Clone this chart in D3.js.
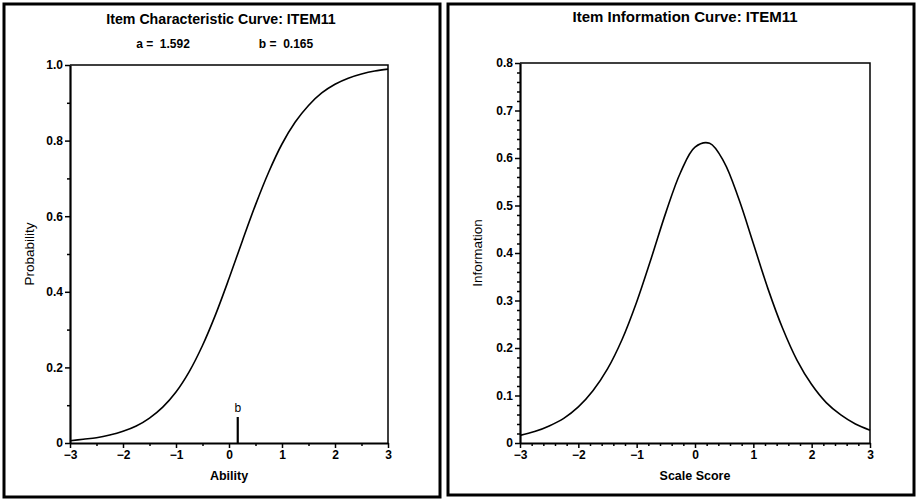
<!DOCTYPE html>
<html>
<head>
<meta charset="utf-8">
<script src="https://cdn.jsdelivr.net/npm/d3@7"></script>
<style>
  body { margin: 0; background: #fff; }
  text { font-family: "Liberation Sans", Arial, sans-serif; fill: #000; }
</style>
</head>
<body>
<svg id="drawing"></svg>
<script>
// ability grid
const abilityPoints = [-3, -2.75, -2.5, -2.25, -2, -1.75, -1.5, -1.25, -1, -0.75, -0.5, -0.25,
    0, 0.25, 0.5, 0.75, 1, 1.25, 1.5, 1.75, 2, 2.25, 2.5, 2.75, 3];
const probabilityValues = [0.006, 0.010, 0.014, 0.021, 0.031, 0.045, 0.066, 0.095, 0.135, 0.189, 0.258, 0.341,
    0.435, 0.534, 0.630, 0.717, 0.791, 0.849, 0.893, 0.926, 0.949, 0.965, 0.976, 0.984, 0.989];
const informationValues = [0.016, 0.024, 0.036, 0.052, 0.076, 0.110, 0.156, 0.218, 0.297, 0.389, 0.485, 0.569,
    0.623, 0.631, 0.591, 0.514, 0.420, 0.325, 0.242, 0.174, 0.123, 0.085, 0.059, 0.040, 0.027];

const xTicks = [-3, -2, -1, 0, 1, 2, 3];
const iccYTicks = [0, 0.2, 0.4, 0.6, 0.8, 1.0];
const infoYTicks = [0, 0.1, 0.2, 0.3, 0.4, 0.5, 0.6, 0.7, 0.8];
const itemLabels = ['a =  1.592', 'b =  0.165'];
const bLocation = 0.165;

class ItemCurveChart {

    constructor( config, data ){
        this.config = {
            parent: config.parent,
            box: config.box,
            plot: config.plot,
            title: config.title || '',
            titleX: config.titleX,
            titleY: config.titleY || 24,
            titleSize: config.titleSize || 14,
            xlabel: config.xlabel || '',
            ylabel: config.ylabel || '',
            ylabelX: config.ylabelX,
            ydomain: config.ydomain,
            yticks: config.yticks,
            yminor: config.yminor,
            xminor: config.xminor
        }
        this.data = data;
        this.init();
    }

    init(){
        let self = this;
        const c = self.config;

        self.svg = d3.select( c.parent );

        // panel border
        self.svg.append('rect')
            .attr('x', c.box.x)
            .attr('y', c.box.y)
            .attr('width', c.box.w)
            .attr('height', c.box.h)
            .attr('fill', 'none')
            .attr('stroke', '#000')
            .attr('stroke-width', 3);

        self.chart = self.svg.append('g')
            .attr('transform', `translate(${c.plot.left}, ${c.plot.top})`);

        self.inner_width = c.plot.width;
        self.inner_height = c.plot.height;

        self.xscale = d3.scaleLinear()
            .domain([-3, 3])
            .range([0, self.inner_width]);

        self.yscale = d3.scaleLinear()
            .domain(c.ydomain)
            .range([self.inner_height, 0]);

        self.svg.append('text')
            .style('font-size', c.titleSize + 'px')
            .style('font-weight', 'bold')
            .attr('text-anchor', 'middle')
            .attr('x', c.titleX)
            .attr('y', c.titleY)
            .text( c.title );

        self.svg.append('text')
            .style('font-size', '12.5px')
            .style('font-weight', 'bold')
            .attr('text-anchor', 'middle')
            .attr('x', c.plot.left + self.inner_width / 2)
            .attr('y', c.plot.top + self.inner_height + 37)
            .text( c.xlabel );

        self.svg.append('text')
            .style('font-size', '13.5px')
            .attr('transform', `translate(${c.ylabelX}, ${c.plot.top + self.inner_height / 2}) rotate(-90)`)
            .attr('text-anchor', 'middle')
            .text( c.ylabel );
    }

    render(){
        let self = this;
        const c = self.config;

        // frame on top and right
        self.chart.append('path')
            .attr('d', `M0,0H${self.inner_width}V${self.inner_height}`)
            .attr('fill', 'none')
            .attr('stroke', '#000')
            .attr('stroke-width', 1.5);

        const fmt = d => d === 0 ? '0' : d3.format('.1f')(d);

        const xminor = self.chart.append('g')
            .attr('transform', `translate(0, ${self.inner_height})`)
            .call( d3.axisBottom(self.xscale).tickValues(c.xminor).tickSize(3).tickFormat('') );
        xminor.select('.domain').remove();

        const yminor = self.chart.append('g')
            .call( d3.axisLeft(self.yscale).tickValues(c.yminor).tickSize(3).tickFormat('') );
        yminor.select('.domain').remove();

        const xaxis = self.chart.append('g')
            .attr('transform', `translate(0, ${self.inner_height})`)
            .call( d3.axisBottom(self.xscale).tickValues(xTicks).tickSize(5).tickSizeOuter(0).tickPadding(2).tickFormat(d3.format('d')) );

        const yaxis = self.chart.append('g')
            .call( d3.axisLeft(self.yscale).tickValues(c.yticks).tickSize(5).tickSizeOuter(0).tickPadding(2).tickFormat(fmt) );

        [xaxis, yaxis, xminor, yminor].forEach(g => {
            g.selectAll('line').attr('stroke', '#000').attr('stroke-width', 1.5);
            g.selectAll('text')
                .style('font-size', '12px')
                .style('font-weight', 'bold')
                .attr('fill', '#000');
            g.select('.domain').attr('stroke', '#000').attr('stroke-width', 2.2);
        });

        const line = d3.line()
            .x( d => self.xscale(d.x) )
            .y( d => self.yscale(d.y) )
            .curve( d3.curveCatmullRom );

        self.chart.append('path')
            .attr('d', line(self.data))
            .attr('fill', 'none')
            .attr('stroke', '#000')
            .attr('stroke-width', 1.6);
    }

    marker(value, label){
        let self = this;
        const x = self.xscale(value);
        self.chart.append('line')
            .attr('x1', x).attr('x2', x)
            .attr('y1', self.inner_height - 26)
            .attr('y2', self.inner_height)
            .attr('stroke', '#000')
            .attr('stroke-width', 2.2);
        self.chart.append('text')
            .style('font-size', '12px')
            .attr('text-anchor', 'middle')
            .attr('x', x)
            .attr('y', self.inner_height - 31)
            .text(label);
    }
}

const svg = d3.select('#drawing')
    .attr('width', 917)
    .attr('height', 501);

const leftGroup = svg.append('g').node();
const rightGroup = svg.append('g').node();

const iccData = abilityPoints.map((x, i) => ({ x: x, y: probabilityValues[i] }));
const infoData = abilityPoints.map((x, i) => ({ x: x, y: informationValues[i] }));

const icc = new ItemCurveChart({
    parent: leftGroup,
    box: { x: 4, y: 4, w: 436, h: 493 },
    plot: { left: 70, top: 65, width: 318, height: 378 },
    title: 'Item Characteristic Curve: ITEM11',
    titleX: 221,
    titleY: 24,
    titleSize: 14.2,
    xlabel: 'Ability',
    ylabel: 'Probability',
    ylabelX: 34,
    ydomain: [0, 1],
    yticks: iccYTicks,
    yminor: d3.range(0.1, 1, 0.2),
    xminor: d3.range(-2.5, 3, 1)
}, iccData);
icc.render();
icc.marker(bLocation, 'b');

// a and b values under the title
d3.select(leftGroup).selectAll('.param')
    .data(itemLabels)
    .join('text')
    .attr('class', 'param')
    .attr('xml:space', 'preserve')
    .style('white-space', 'pre')
    .style('font-size', '12px')
    .style('font-weight', 'bold')
    .attr('text-anchor', 'middle')
    .attr('x', (d, i) => i === 0 ? 163 : 286)
    .attr('y', 48)
    .text(d => d);

const info = new ItemCurveChart({
    parent: rightGroup,
    box: { x: 448, y: 4, w: 466, h: 491 },
    plot: { left: 520, top: 63, width: 350, height: 380 },
    title: 'Item Information Curve: ITEM11',
    titleX: 685,
    titleY: 22,
    titleSize: 15,
    xlabel: 'Scale Score',
    ylabel: 'Information',
    ylabelX: 482,
    ydomain: [0, 0.8],
    yticks: infoYTicks,
    yminor: d3.range(0, 0.8, 0.02).filter((d, i) => i % 5 !== 0),
    xminor: d3.range(-3, 3, 0.2).filter((d, i) => i % 5 !== 0)
}, infoData);
info.render();
</script>
</body>
</html>
